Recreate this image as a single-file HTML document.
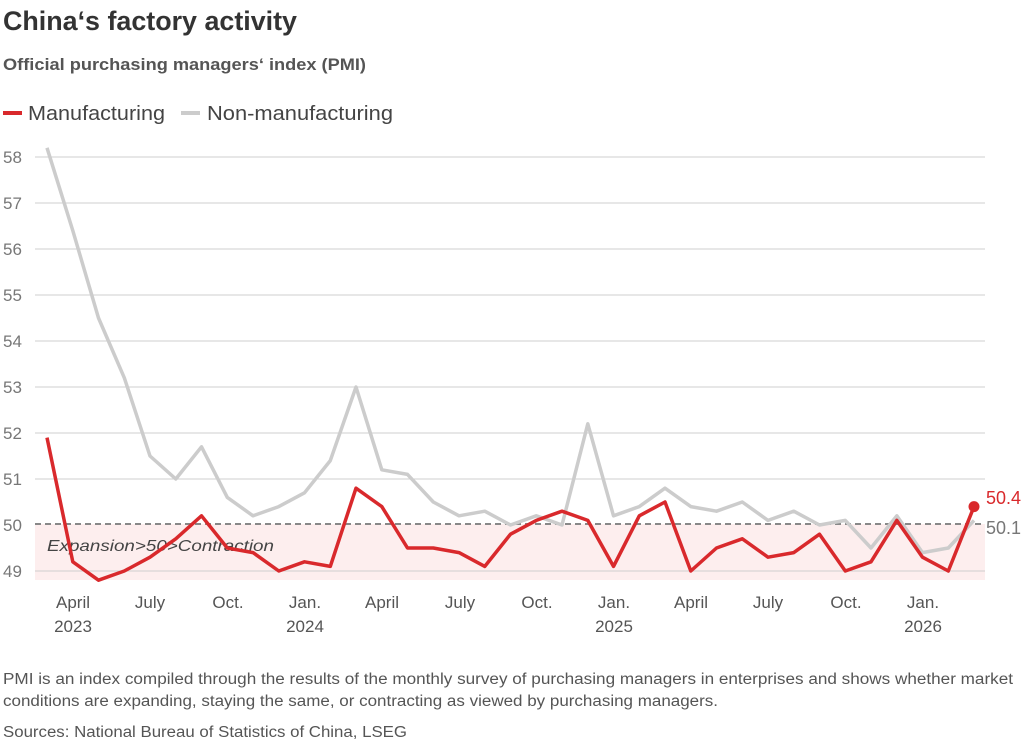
<!DOCTYPE html>
<html><head><meta charset="utf-8"><style>
body{margin:0;background:#fff;width:1024px;height:744px;overflow:hidden;font-family:"Liberation Sans",sans-serif}
</style></head><body>
<svg width="1024" height="744" xmlns="http://www.w3.org/2000/svg" font-family="Liberation Sans, sans-serif">
<text x="3" y="30" font-size="27" font-weight="bold" fill="#333" textLength="294" lengthAdjust="spacingAndGlyphs">China‘s factory activity</text>
<text x="3" y="70" font-size="17" font-weight="bold" fill="#555" textLength="363" lengthAdjust="spacingAndGlyphs">Official purchasing managers‘ index (PMI)</text>
<line x1="3" y1="113" x2="22" y2="113" stroke="#d9292c" stroke-width="4"/>
<text x="28" y="120" font-size="20" fill="#444" textLength="137" lengthAdjust="spacingAndGlyphs">Manufacturing</text>
<line x1="181" y1="113" x2="200" y2="113" stroke="#cccccc" stroke-width="4"/>
<text x="207" y="120" font-size="20" fill="#444" textLength="186" lengthAdjust="spacingAndGlyphs">Non-manufacturing</text>
<rect x="35" y="524" width="950" height="56" fill="#fdeeee"/>
<g stroke="#cfcfcf" stroke-width="1">
<line x1="35" y1="157" x2="985" y2="157"/><line x1="35" y1="203" x2="985" y2="203"/>
<line x1="35" y1="249" x2="985" y2="249"/><line x1="35" y1="295" x2="985" y2="295"/>
<line x1="35" y1="341" x2="985" y2="341"/><line x1="35" y1="387" x2="985" y2="387"/>
<line x1="35" y1="433" x2="985" y2="433"/><line x1="35" y1="479" x2="985" y2="479"/>
<line x1="35" y1="571" x2="985" y2="571"/>
</g>
<g font-size="17" fill="#777">
<text x="3" y="163">58</text><text x="3" y="209">57</text><text x="3" y="255">56</text>
<text x="3" y="301">55</text><text x="3" y="347">54</text><text x="3" y="393">53</text>
<text x="3" y="439">52</text><text x="3" y="485">51</text><text x="3" y="531">50</text>
<text x="3" y="577">49</text>
</g>
<line x1="35" y1="524" x2="985" y2="524" stroke="#888" stroke-width="2" stroke-dasharray="6,4"/>
<text x="47" y="551" font-size="16" font-style="italic" fill="#444" textLength="227" lengthAdjust="spacingAndGlyphs">Expansion&gt;50&gt;Contraction</text>
<g font-size="17" fill="#555" text-anchor="middle">
<text x="73" y="608">April</text><text x="73" y="632">2023</text>
<text x="150" y="608">July</text><text x="228" y="608">Oct.</text>
<text x="305" y="608">Jan.</text><text x="305" y="632">2024</text>
<text x="382" y="608">April</text><text x="460" y="608">July</text><text x="537" y="608">Oct.</text>
<text x="614" y="608">Jan.</text><text x="614" y="632">2025</text>
<text x="691" y="608">April</text><text x="768" y="608">July</text><text x="846" y="608">Oct.</text>
<text x="923" y="608">Jan.</text><text x="923" y="632">2026</text>
</g>
<polyline id="n" fill="none" stroke="#cccccc" stroke-width="3.5" stroke-linejoin="round" points=""/>
<polyline id="m" fill="none" stroke="#d9292c" stroke-width="3.5" stroke-linejoin="round" points=""/>
<circle id="dot" r="5.5" fill="#d9292c" cx="0" cy="0"/>
<text x="986" y="504" font-size="18" fill="#d9292c">50.4</text>
<text x="986" y="534" font-size="18" fill="#777">50.1</text>
<text x="3" y="684" font-size="15.5" fill="#555" textLength="1010" lengthAdjust="spacingAndGlyphs">PMI is an index compiled through the results of the monthly survey of purchasing managers in enterprises and shows whether market</text>
<text x="3" y="706" font-size="15.5" fill="#555" textLength="715" lengthAdjust="spacingAndGlyphs">conditions are expanding, staying the same, or contracting as viewed by purchasing managers.</text>
<text x="3" y="737" font-size="15.5" fill="#555" textLength="404" lengthAdjust="spacingAndGlyphs">Sources: National Bureau of Statistics of China, LSEG</text>
</svg>
<script>
var m=[51.9,49.2,48.8,49.0,49.3,49.7,50.2,49.5,49.4,49.0,49.2,49.1,50.8,50.4,49.5,49.5,49.4,49.1,49.8,50.1,50.3,50.1,49.1,50.2,50.5,49.0,49.5,49.7,49.3,49.4,49.8,49.0,49.2,50.1,49.3,49.0,50.4];
var n=[58.2,56.4,54.5,53.2,51.5,51.0,51.7,50.6,50.2,50.4,50.7,51.4,53.0,51.2,51.1,50.5,50.2,50.3,50.0,50.2,50.0,52.2,50.2,50.4,50.8,50.4,50.3,50.5,50.1,50.3,50.0,50.1,49.5,50.2,49.4,49.5,50.1];
function X(i){return 47+i*25.75}function Y(v){return 525-(v-50)*46}
function p(a){return a.map(function(v,i){return X(i).toFixed(1)+","+Y(v).toFixed(1)}).join(" ")}
document.getElementById("m").setAttribute("points",p(m));
document.getElementById("n").setAttribute("points",p(n));
var d=document.getElementById("dot");d.setAttribute("cx",X(36));d.setAttribute("cy",Y(50.4));
</script>
</body></html>
